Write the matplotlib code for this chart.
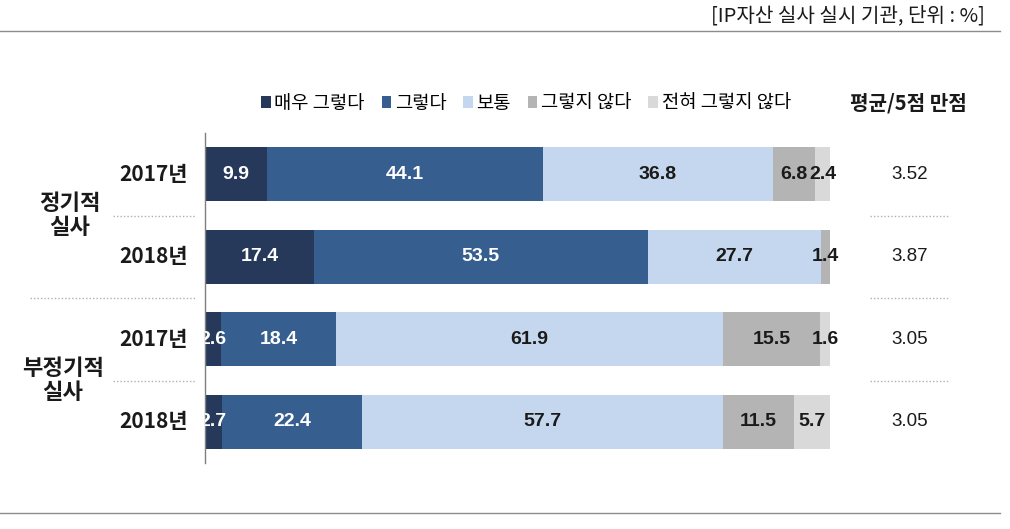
import matplotlib
matplotlib.use("Agg")
import matplotlib.pyplot as plt
import matplotlib.transforms as mtransforms
from matplotlib.lines import Line2D

plt.rcParams['font.family'] = ['Noto Sans CJK KR', 'DejaVu Sans']

categories = ['매우 그렇다', '그렇다', '보통', '그렇지 않다', '전혀 그렇지 않다']
row_labels = ['2017년', '2018년', '2017년', '2018년']
group_labels = ['정기적\n실사', '부정기적\n실사']
very_yes = [9.9, 17.4, 2.6, 2.7]
yes = [44.1, 53.5, 18.4, 22.4]
neutral = [36.8, 27.7, 61.9, 57.7]
no = [6.8, 1.4, 15.5, 11.5]
very_no = [2.4, 0.0, 1.6, 5.7]
means = ['3.52', '3.87', '3.05', '3.05']
series = [very_yes, yes, neutral, no, very_no]
colors = ['#26395a', '#365e8f', '#c5d7ee', '#b4b4b4', '#d9d9d9']
text_colors = ['white', 'white', '#1a1a1a', '#1a1a1a', '#1a1a1a']

W, H = 1010, 529
fig = plt.figure(figsize=(W / 100, H / 100), dpi=100)

def fx(px):
    return px / W

def fy(py):
    return 1 - py / H

ax_left, ax_right, ax_top, ax_bot = 205, 1000, 133, 463
ax = fig.add_axes([fx(ax_left), fy(ax_bot), fx(ax_right - ax_left), (ax_bot - ax_top) / H])
full = 830
ax.set_xlim(0, 100 * (ax_right - ax_left) / (full - ax_left))
ax.set_ylim(3.5, -0.5)

num_font = ['Liberation Sans', 'DejaVu Sans']
ypos = list(range(len(row_labels)))
left = [0.0] * len(ypos)
handles = []
for vals, col, tc, name in zip(series, colors, text_colors, categories):
    bars = ax.barh(ypos, vals, left=left, height=0.66, color=col, edgecolor='none', label=name)
    handles.append(bars)
    for y, v, l in zip(ypos, vals, left):
        if v > 0:
            ax.text(l + v / 2, y, f'{v:.1f}', ha='center', va='center', color=tc,
                    fontsize=14, fontweight='bold', family=num_font, clip_on=True)
    left = [a + b for a, b in zip(left, vals)]

for s in ['top', 'right', 'bottom']:
    ax.spines[s].set_visible(False)
ax.spines['left'].set_color('#7f7f7f')
ax.spines['left'].set_linewidth(1.0)
ax.set_xticks([])
ax.set_yticks([])
ax.patch.set_alpha(0)

# blended transform: x in figure fraction, y in data
trans = mtransforms.blended_transform_factory(fig.transFigure, ax.transData)

for y, lab in zip(ypos, row_labels):
    fig.text(fx(188), y, lab, transform=trans, ha='right', va='center', fontsize=15,
             fontweight='bold', color='#1a1a1a')
for y, lab in zip(ypos, means):
    fig.text(fx(910), y, lab, transform=trans, ha='center', va='center', fontsize=13.5,
             color='#1a1a1a', family=num_font)

fig.text(fx(70), 0.5, group_labels[0], transform=trans, ha='center', va='center',
         fontsize=16, fontweight='bold', color='#1a1a1a', linespacing=1.05)
fig.text(fx(63), 2.5, group_labels[1], transform=trans, ha='center', va='center',
         fontsize=16, fontweight='bold', color='#1a1a1a', linespacing=1.05)

dot_kw = dict(transform=trans, color='#b0b0b0', linestyle=(0, (1, 1.5)), linewidth=1.0)
fig.add_artist(Line2D([fx(113), fx(195)], [0.5, 0.5], **dot_kw))
fig.add_artist(Line2D([fx(30), fx(195)], [1.5, 1.5], **dot_kw))
fig.add_artist(Line2D([fx(113), fx(195)], [2.5, 2.5], **dot_kw))
for yy in [0.5, 1.5, 2.5]:
    fig.add_artist(Line2D([fx(870), fx(950)], [yy, yy], **dot_kw))

# top/bottom rules
fig.add_artist(Line2D([fx(0), fx(1000)], [fy(31), fy(31)], color='#8c8c8c', linewidth=1.0))
fig.add_artist(Line2D([fx(0), fx(1000)], [fy(513), fy(513)], color='#8c8c8c', linewidth=1.0))

fig.text(fx(985), fy(16), '[IP자산 실사 실시 기관, 단위 : %]', ha='right', va='center',
         fontsize=14.5, color='#1a1a1a')

leg = fig.legend(handles=handles, labels=categories, loc='center', ncol=5,
                 bbox_to_anchor=(fx(526), fy(103)), frameon=False, fontsize=13.5,
                 handlelength=0.5, handleheight=0.55, handletextpad=0.2,
                 columnspacing=0.9, borderaxespad=0, borderpad=0)
fig.text(fx(908), fy(103), '평균/5점 만점', ha='center', va='center', fontsize=14.5,
         fontweight='bold', color='#1a1a1a')

fig.savefig('out.png', dpi=100)
